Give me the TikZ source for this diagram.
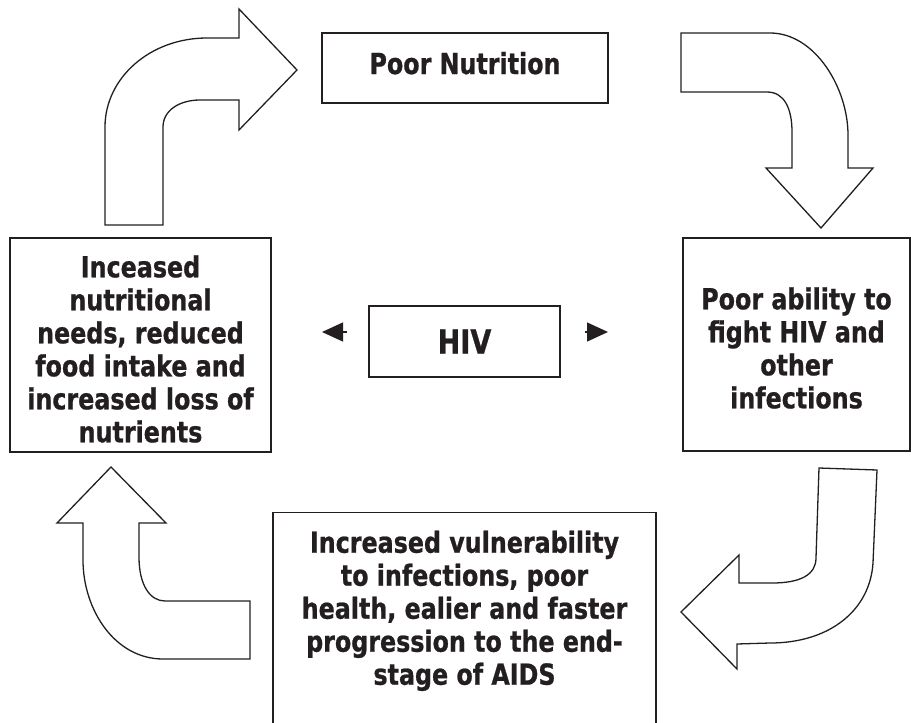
\documentclass[tikz,border=0pt]{standalone}
\usepackage{fontspec}
\setmainfont{DejaVu Sans}[FakeStretch=0.82, BoldFeatures={FakeBold=0.8}]
\usetikzlibrary{arrows.meta}
\definecolor{ink}{HTML}{231F20}
\begin{document}
\begin{tikzpicture}[x=1pt, y=-1pt,
	box/.style={draw=ink, line width=1.4pt, align=center, inner sep=0pt, text=ink,
		font=\bfseries\fontsize{29}{33}\selectfont},
	bigarrow/.style={draw=ink, line width=1.3pt, line join=miter, fill=white},
	tip/.style={draw=ink, line width=1.3pt, -{Triangle[length=21pt, width=19pt]}}]
	\useasboundingbox (0,0) rectangle (911,723);

	\node (nut) [box, minimum width=286pt, minimum height=70pt, text depth=10pt] at (465,68) {Poor Nutrition};
	\node (needs) [box, minimum width=261pt, minimum height=214pt] at (140.5,345) {};
	\node (needstext) [box, draw=none] at (140.5,349)
		{Inceased\\nutritional\\needs, reduced\\food intake and\\increased loss of\\nutrients};
	\node (fight) [box, minimum width=227pt, minimum height=213pt] at (796.5,344.5) {};
	\node (fighttext) [box, draw=none] at (796.5,348)
		{Poor ability to\\fight HIV and\\other\\infections};
	\node (hiv) [box, minimum width=191pt, minimum height=71pt,
		font=\bfseries\fontsize{33}{38}\selectfont] at (464.5,341.5) {HIV};
	\node (vulnbox) [box, minimum width=383pt, minimum height=260pt, anchor=north] at (464.5,512) {};
	\node (vuln) [box, draw=none, anchor=north] at (464.5,530)
		{Increased vulnerability\\to infections, poor\\health, ealier and faster\\progression to the end-\\stage of AIDS};

	% small arrows beside HIV
	\coordinate (hivl) at (347,332);
	\coordinate (hivlt) at (322,332);
	\coordinate (hivr) at (585,332);
	\coordinate (hivrt) at (608,332);
	\draw[tip] (hivl) -- (hivlt);
	\draw[tip] (hivr) -- (hivrt);

	% block arrows of the cycle
	\draw[bigarrow] (105,225) -- (105,127) .. controls (105,78) and (150,38) .. (207,38)
		-- (239,38) -- (239,9) -- (297,70) -- (239,130) -- (239,100) -- (200,100)
		.. controls (180,100) and (163,110) .. (163,127) -- (163,225) -- cycle;
	\draw[bigarrow] (681,33) -- (770,33) .. controls (815,33) and (848,88) .. (848,135)
		-- (848,168) -- (873,168) -- (821,228) -- (766,168) -- (792,168) -- (792,132)
		.. controls (792,108) and (784,92) .. (767,92) -- (681,92) -- cycle;
	\draw[bigarrow] (819,468) -- (877,470) -- (873,563) .. controls (870,610) and (830,643) .. (770,643)
		-- (737,644) -- (737,669) -- (681,612) -- (739,555) -- (739,583) -- (772,583)
		.. controls (800,583) and (816,575) .. (816,558) -- cycle;
	\draw[bigarrow] (111,467) -- (166,523) -- (139,523) -- (139,557)
		.. controls (139,585) and (150,601) .. (165,601) -- (250,601) -- (250,659) -- (163,659)
		.. controls (115,659) and (83,610) .. (83,560) -- (83,523) -- (57,523) -- cycle;
\end{tikzpicture}
\end{document}
